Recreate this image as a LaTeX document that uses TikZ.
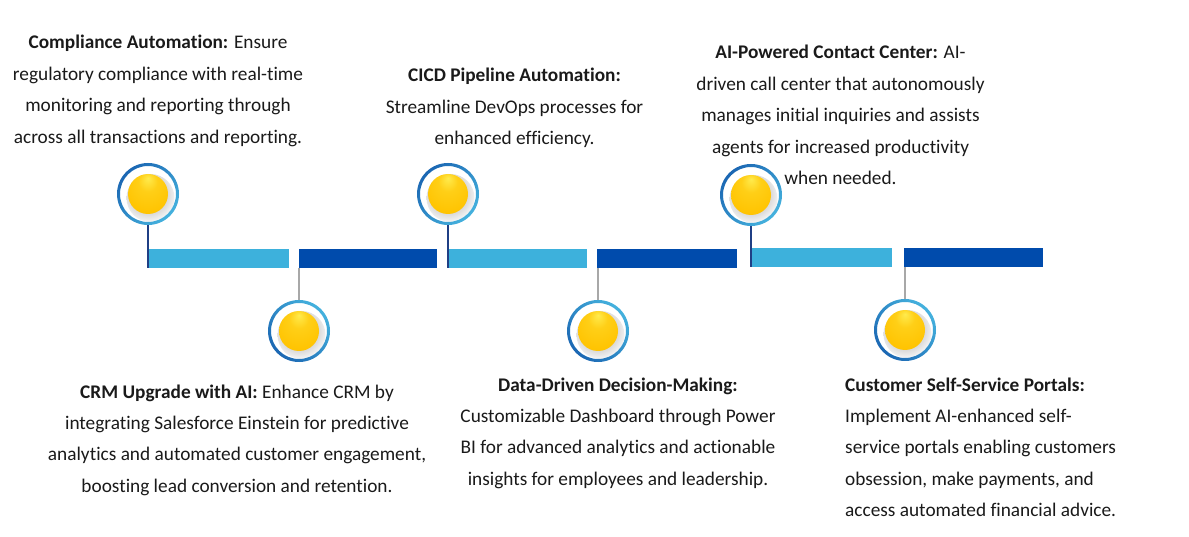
\documentclass[tikz,border=0pt]{standalone}
\usepackage{fontspec}
\setmainfont{Carlito}[Ligatures=NoCommon]
\usetikzlibrary{calc}
\definecolor{lightbar}{HTML}{3DB1DC}
\definecolor{darkbar}{HTML}{004BAC}
\definecolor{ringdark}{HTML}{1B67B3}
\definecolor{ringlight}{HTML}{45B2DE}
\definecolor{ballhi}{HTML}{FFEB4D}
\definecolor{ballmid}{HTML}{FFC300}
\definecolor{balldark}{HTML}{E6A000}
\definecolor{navyline}{HTML}{1F3F85}
\definecolor{grayline}{HTML}{A8A8A8}
\definecolor{txtcol}{HTML}{1A1A1A}
\pgfdeclareradialshading{ballshade}{\pgfpoint{0bp}{20bp}}{%
  color(0bp)=(ballhi); color(12bp)=(ballmid!70!ballhi); color(32bp)=(ballmid); color(50bp)=(balldark)}
\begin{document}
\begin{tikzpicture}[x=1pt,y=-1pt,
  marker/.style={circle, minimum size=62pt, inner sep=0pt, path picture={
     \shade[inner color=black!40, outer color=white]
        ($(path picture bounding box.center)+(2.5,4)$) circle (24pt);
     \shade[even odd rule, top color=ringdark, bottom color=ringlight, shading angle=#1]
        (path picture bounding box.center) circle (31pt) circle (28pt);
     \shade[shading=ballshade]
        (path picture bounding box.center) circle (20pt);
  }},
  markertop/.style={marker=45},
  markerbot/.style={marker=135},
  barbox/.style={rectangle, draw=none, inner sep=0pt, anchor=north west, minimum height=19pt},
  lightbox/.style={barbox, fill=lightbar},
  darkbox/.style={barbox, fill=darkbar},
  upline/.style={draw=navyline, line width=1.3pt},
  downline/.style={draw=grayline, line width=1.3pt},
  txt/.style={font=\fontsize{19.3}{31.4}\selectfont, text=txtcol, inner sep=0pt, anchor=base},
  ctxt/.style={txt, align=center},
  ltxt/.style={txt, align=left, anchor=base west}
]
\useasboundingbox[fill=white] (0,0) rectangle (1189,537);

% bars
\node[lightbox, minimum width=141pt] (b1) at (148,249) {};
\node[darkbox,  minimum width=138pt] (b2) at (299,249) {};
\node[lightbox, minimum width=138pt] (b3) at (449,249) {};
\node[darkbox,  minimum width=140pt] (b4) at (597,249) {};
\node[lightbox, minimum width=140pt] (b5) at (752,248) {};
\node[darkbox,  minimum width=139pt, minimum height=18.5pt] (b6) at (904,248) {};

% markers
\node[markertop] (m1) at (148,194) {};
\node[markerbot] (m2) at (299,331) {};
\node[markertop] (m3) at (448,194) {};
\node[markerbot] (m4) at (598,331) {};
\node[markertop] (m5) at (751,195) {};
\node[markerbot] (m6) at (905,330) {};

% connectors
\draw[upline] (m1.south) -- (m1.south |- b1.south);
\draw[upline] (m3.south) -- (m3.south |- b3.south);
\draw[upline] (m5.south) -- (m5.south |- b5.south);
\draw[downline] (m2.north |- b2.south) -- (m2.north);
\draw[downline] (m4.north |- b4.south) -- (m4.north);
\draw[downline] (m6.north |- b6.south) -- (m6.north);

% texts (anchor = baseline of last line)
\node[ctxt] (t1) at (158,143.2) {\textbf{Compliance Automation:} Ensure\\regulatory compliance with real-time\\monitoring and reporting through\\across all transactions and reporting.};
\node[ctxt] (t3) at (514.5,144.8) {\textbf{CICD Pipeline Automation:}\\Streamline DevOps processes for\\enhanced efficiency.};
\node[ctxt] (t5) at (840.5,184.6) {\textbf{AI-Powered Contact Center:} AI-\\driven call center that autonomously\\manages initial inquiries and assists\\agents for increased productivity\\when needed.};
\node[ctxt] (t2) at (237,492.2) {\textbf{CRM Upgrade with AI:} Enhance CRM by\\integrating Salesforce Einstein for predictive\\analytics and automated customer engagement,\\boosting lead conversion and retention.};
\node[ctxt] (t4) at (618,485.2) {\textbf{Data-Driven Decision-Making:}\\Customizable Dashboard through Power\\BI for advanced analytics and actionable\\insights for employees and leadership.};
\node[ltxt] (t6) at (845,516.6) {\textbf{Customer Self-Service Portals:}\\Implement AI-enhanced self-\\service portals enabling customers\\obsession, make payments, and\\access automated financial advice.};
\end{tikzpicture}
\end{document}
